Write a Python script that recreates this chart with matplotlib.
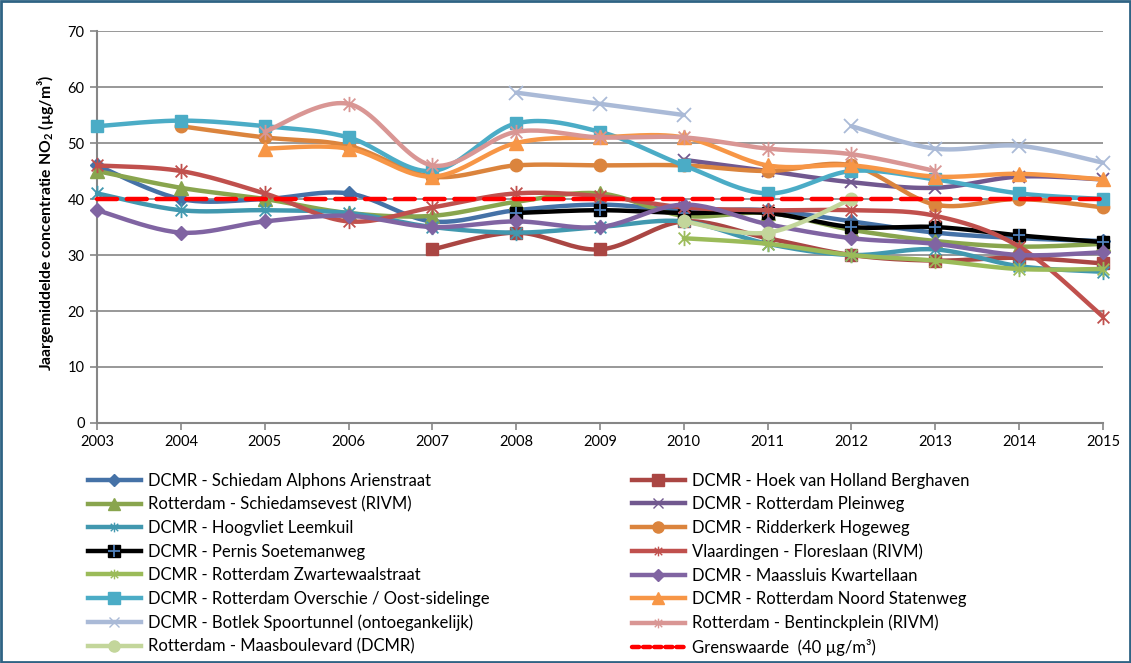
import numpy as np
import matplotlib
matplotlib.use('Agg')
import matplotlib.pyplot as plt
from matplotlib.path import Path
from matplotlib.lines import Line2D
from matplotlib.patches import Rectangle

plt.rcParams['font.family'] = ['Lato', 'DejaVu Sans']
plt.rcParams['mathtext.default'] = 'regular'

nan = np.nan
years = list(range(2003, 2016))

# yearly means NO2 (ug/m3)
schiedam = [46, 40, 40, 41, 36, 38, 39, 38, 38, 36, 34, 33, 32.5]
hoek = [nan, nan, nan, nan, 31, 34, 31, 36, 33, 30, 29, 29.5, 28.5]
schiedamsevest = [45, 42, 40, 37.5, 37, 39.5, 41, 37, 37.5, 34.5, 32.5, 31.5, 32]
pleinweg = [nan, nan, nan, nan, nan, nan, nan, 47, 45, 43, 42, 44, 43.5]
hoogvliet = [41, 38, 38, 37.5, 35, 34, 35, 36, 32, 30, 31, 28, 27]
ridderkerk = [nan, 53, 51, 49.5, 44, 46, 46, 46, 45, 46, 39, 40, 38.5]
pernis = [nan, nan, nan, nan, nan, 37.5, 38, 37.5, 37.5, 35, 35, 33.5, 32.3]
vlaardingen = [46, 45, 41, 36, 38.5, 41, 40.5, 38.5, 38, 38, 37, 31.5, 19]
zwartewaal = [nan, nan, nan, nan, nan, nan, nan, 33, 32, 30, 29, 27.5, 27.5]
maassluis = [38, 34, 36, 37, 35, 36, 35, 39, 35.5, 33, 32, 30, 30.5]
overschie = [53, 54, 53, 51, 45, 53.5, 52, 46, 41, 45, 43.5, 41, 40]
statenweg = [nan, nan, 49, 49, 44, 50, 51, 51, 46, 46, 44, 44.5, 43.5]
botlek = [nan, nan, nan, nan, nan, 59, 57, 55, nan, 53, 49, 49.5, 46.5]
bentinck = [nan, nan, 52, 57, 46, 52, 51, 51, 49, 48, 45, nan, nan]
maasboulevard = [nan, nan, nan, nan, nan, nan, nan, 36, 34, 40, nan, nan, nan]
grens = [40] * 13

# excel-like asterisk marker (x plus vertical bar)
star = Path([(-1, -1), (1, 1), (-1, 1), (1, -1), (0, -1.3), (0, 1.3)],
            [Path.MOVETO, Path.LINETO, Path.MOVETO, Path.LINETO, Path.MOVETO, Path.LINETO])

# label, data, color, marker, markersize
series = [
    ('DCMR - Schiedam Alphons Arienstraat', schiedam, '#4572A7', 'D', 7),
    ('DCMR - Hoek van Holland Berghaven', hoek, '#AA4643', 's', 9),
    ('Rotterdam - Schiedamsevest (RIVM)', schiedamsevest, '#89A54E', '^', 10),
    ('DCMR - Rotterdam Pleinweg', pleinweg, '#71588F', 'x', 9),
    ('DCMR - Hoogvliet Leemkuil', hoogvliet, '#4198AF', star, 11),
    ('DCMR - Ridderkerk Hogeweg', ridderkerk, '#DB843D', 'o', 9),
    ('DCMR - Pernis Soetemanweg', pernis, 'black', 's', 9),
    ('Vlaardingen - Floreslaan (RIVM)', vlaardingen, '#C0504D', star, 11),
    ('DCMR - Rotterdam Zwartewaalstraat', zwartewaal, '#9BBB59', star, 11),
    ('DCMR - Maassluis Kwartellaan', maassluis, '#8064A2', 'D', 7),
    ('DCMR - Rotterdam Overschie / Oost-sidelinge', overschie, '#4BACC6', 's', 9),
    ('DCMR - Rotterdam Noord Statenweg', statenweg, '#F79646', '^', 10),
    ('DCMR - Botlek Spoortunnel (ontoegankelijk)', botlek, '#AABAD7', 'x', 10),
    ('Rotterdam - Bentinckplein (RIVM)', bentinck, '#D99694', star, 11),
    ('Rotterdam - Maasboulevard (DCMR)', maasboulevard, '#C3D69B', 'o', 9),
]


def smooth(xs, ys, n=24):
    # bezier smoothing like excel's "smoothed line", per contiguous run
    out = []
    xs = np.asarray(xs, float)
    ys = np.asarray(ys, float)
    ok = ~np.isnan(ys)
    runs, cur = [], []
    for i in range(len(ys)):
        if ok[i]:
            cur.append(i)
        elif cur:
            runs.append(cur)
            cur = []
    if cur:
        runs.append(cur)
    for r in runs:
        P = np.column_stack([xs[r], ys[r]])
        if len(P) == 1:
            continue
        px, py = [], []
        for i in range(len(P) - 1):
            p0 = P[i - 1] if i > 0 else P[i]
            p1, p2 = P[i], P[i + 1]
            p3 = P[i + 2] if i + 2 < len(P) else P[i + 1]
            c1 = p1 + (p2 - p0) / 6
            c2 = p2 - (p3 - p1) / 6
            t = np.linspace(0, 1, n)[:, None]
            b = (1 - t) ** 3 * p1 + 3 * (1 - t) ** 2 * t * c1 + 3 * (1 - t) * t ** 2 * c2 + t ** 3 * p2
            px.extend(b[:, 0])
            py.extend(b[:, 1])
        out.append((px, py))
    return out


fig = plt.figure(figsize=(11.31, 6.63), dpi=100)
ax = fig.add_axes([0.0858, 0.362, 0.8894, 0.5912])

handles = []
for k, (lab, vals, col, mk, ms) in enumerate(series):
    z = 3 + k
    for px, py in smooth(years, vals):
        ax.plot(px, py, color=col, lw=3.2, zorder=z, clip_on=False, solid_capstyle='round')
    if mk in ('x',) or mk is star:
        ax.plot(years, vals, ls='none', marker=mk, ms=ms, mec=col, mfc='none', mew=1.3,
                zorder=z, clip_on=False)
        h = Line2D([], [], color=col, lw=3.2, marker=mk, ms=7, mec=col, mfc='none', mew=1.0)
    else:
        ax.plot(years, vals, ls='none', marker=mk, ms=ms, mec=col, mfc=col, zorder=z, clip_on=False)
        h = Line2D([], [], color=col, lw=3.2, marker=mk, ms=ms - 1, mec=col, mfc=col)
    if lab.startswith('DCMR - Pernis'):
        ax.plot(years, vals, ls='none', marker='+', ms=9, mec='#4F81BD', mew=1.3, zorder=z + 0.5,
                clip_on=False)
        h = (h, Line2D([], [], ls='none', marker='+', ms=8, mec='#4F81BD', mew=1.3))
    handles.append(h)

ax.plot(years, grens, color='#FF0000', lw=3.2, ls=(0, (4.5, 2.2)), dash_capstyle='round',
        zorder=30, clip_on=False)
handles.append(Line2D([], [], color='#FF0000', lw=3.2, ls=(0, (1.6, 0.9)), dash_capstyle='round'))
labels = [s[0] for s in series] + ['Grenswaarde  (40 µg/m³)']

# axes look
ax.set_xlim(2003, 2015)
ax.set_ylim(0, 70)
ax.set_xticks(years)
ax.set_yticks(range(0, 71, 10))
ax.tick_params(labelsize=10.5, color='#868686', length=5, width=1.2, pad=4)
ax.grid(axis='y', color='#868686', lw=1.2)
ax.set_axisbelow(True)
for s in ['top', 'right']:
    ax.spines[s].set_visible(False)
for s in ['left', 'bottom']:
    ax.spines[s].set_color('#868686')
    ax.spines[s].set_linewidth(1.5)

fig.text(0.040, 0.664, 'Jaargemiddelde concentratie NO$_2$ (µg/m³)', rotation=90,
         ha='center', va='center', fontsize=11.3, fontweight='bold')

# legend, row-major like the original: two separate columns
left_h, left_l = handles[0::2], labels[0::2]
right_h, right_l = handles[1::2], labels[1::2]
kw = dict(frameon=False, fontsize=12, handlelength=3.2, handletextpad=0.45,
          labelspacing=0.455, borderaxespad=0, borderpad=0)
fig.legend(left_h, left_l, loc='upper left', bbox_to_anchor=(0.0774, 0.287), **kw)
fig.legend(right_h, right_l, loc='upper left', bbox_to_anchor=(0.5584, 0.287), **kw)

fig.patches.append(Rectangle((0.001, 0.001), 0.998, 0.998, transform=fig.transFigure,
                             fill=False, edgecolor='#2F6384', lw=2))

fig.savefig('out.png', dpi=100)
